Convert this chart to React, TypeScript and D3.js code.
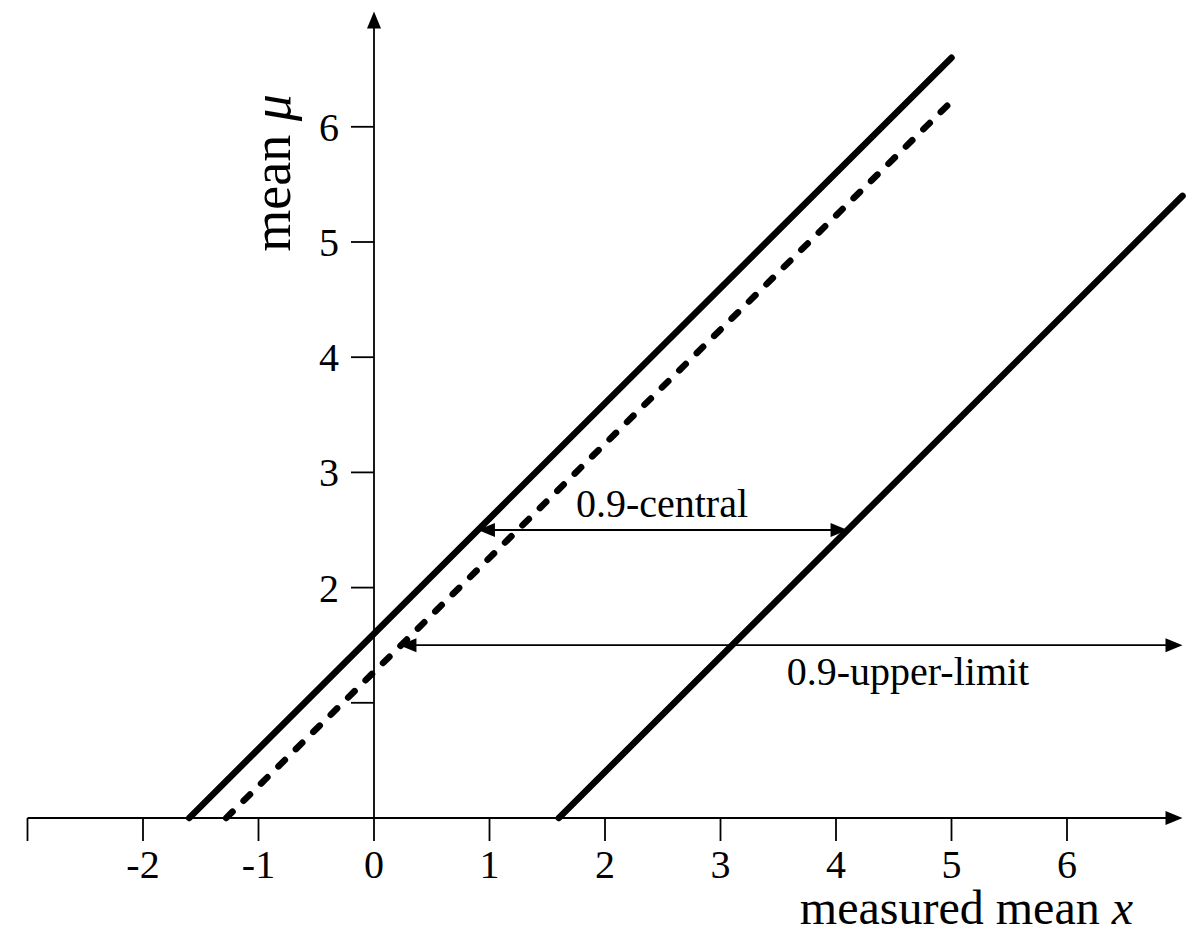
import React, { useEffect, useRef } from 'react';
import * as d3 from 'd3';

// tick values along each axis
const xTicks = [-3, -2, -1, 0, 1, 2, 3, 4, 5, 6];
const xTickLabels = ['', '-2', '-1', '0', '1', '2', '3', '4', '5', '6'];
const yTicks = [1, 2, 3, 4, 5, 6];
const yTickLabels = ['', '2', '3', '4', '5', '6'];

// confidence belt lines, [x, mu] end points
const upperBelt: [number, number][] = [[-1.6, 0], [5, 6.6]];
const limitBelt: [number, number][] = [[-1.28, 0], [5, 6.22]];
const lowerBelt: [number, number][] = [[1.6, 0], [7, 5.4]];

// interval arrows: mu level, x from, x to
const centralArrow = { mu: 2.5, from: 0.9, to: 4.1, label: '0.9-central' };
const upperArrow = { mu: 1.5, from: 0.22, to: 7, label: '0.9-upper-limit' };

const FONT = '"Liberation Serif", "DejaVu Serif", serif';

export default function App() {
  const ref = useRef<SVGSVGElement>(null);

  useEffect(() => {
    const svg = d3.select(ref.current);
    svg.selectAll('*').remove();

    const x = d3.scaleLinear().domain([0, 7]).range([374, 374 + 7 * 115.5]);
    const y = d3.scaleLinear().domain([0, 7]).range([818, 818 - 7 * 115.2]);

    const g = svg.append('g');

    // arrowhead helper
    const head = (tx: number, ty: number, dir: 'left' | 'right' | 'up') => {
      const L = 17, W = 7;
      let pts: [number, number][];
      if (dir === 'right') pts = [[tx, ty], [tx - L, ty - W], [tx - L, ty + W]];
      else if (dir === 'left') pts = [[tx, ty], [tx + L, ty - W], [tx + L, ty + W]];
      else pts = [[tx, ty], [tx - W, ty + L], [tx + W, ty + L]];
      g.append('path')
        .attr('d', 'M' + pts.map(p => p.join(',')).join('L') + 'Z')
        .attr('fill', '#000');
    };

    // x axis
    g.append('line')
      .attr('x1', x(-3)).attr('x2', x(7) - 8)
      .attr('y1', y(0)).attr('y2', y(0))
      .attr('stroke', '#000').attr('stroke-width', 1.8);
    head(x(7), y(0), 'right');

    g.selectAll('.xtick')
      .data(xTicks)
      .enter()
      .append('line')
      .attr('x1', d => x(d)).attr('x2', d => x(d))
      .attr('y1', y(0)).attr('y2', y(0) + 23)
      .attr('stroke', '#000').attr('stroke-width', 1.8);

    g.selectAll('.xlabel')
      .data(xTicks)
      .enter()
      .append('text')
      .attr('x', d => x(d))
      .attr('y', y(0) + 60)
      .attr('text-anchor', 'middle')
      .attr('font-family', FONT)
      .attr('font-size', 40)
      .text((d, i) => xTickLabels[i]);

    // y axis
    g.append('line')
      .attr('x1', x(0)).attr('x2', x(0))
      .attr('y1', y(0)).attr('y2', y(7) + 8)
      .attr('stroke', '#000').attr('stroke-width', 1.8);
    head(x(0), y(7), 'up');

    g.selectAll('.ytick')
      .data(yTicks)
      .enter()
      .append('line')
      .attr('x1', x(0) - 23).attr('x2', x(0))
      .attr('y1', d => y(d)).attr('y2', d => y(d))
      .attr('stroke', '#000').attr('stroke-width', 1.8);

    g.selectAll('.ylabel')
      .data(yTicks)
      .enter()
      .append('text')
      .attr('x', x(0) - 35)
      .attr('y', d => y(d) + 14)
      .attr('text-anchor', 'end')
      .attr('font-family', FONT)
      .attr('font-size', 40)
      .text((d, i) => yTickLabels[i]);

    // belts
    const line = d3.line<[number, number]>().x(d => x(d[0])).y(d => y(d[1]));
    [upperBelt, lowerBelt].forEach(b => {
      g.append('path')
        .attr('d', line(b))
        .attr('fill', 'none')
        .attr('stroke', '#000')
        .attr('stroke-width', 6.5)
        .attr('stroke-linecap', 'round');
    });
    g.append('path')
      .attr('d', line(limitBelt))
      .attr('fill', 'none')
      .attr('stroke', '#000')
      .attr('stroke-width', 6.5)
      .attr('stroke-linecap', 'round')
      .attr('stroke-dasharray', '9 15.5');

    // interval arrows
    [centralArrow, upperArrow].forEach(a => {
      g.append('line')
        .attr('x1', x(a.from) + 8).attr('x2', x(a.to) - 8)
        .attr('y1', y(a.mu)).attr('y2', y(a.mu))
        .attr('stroke', '#000').attr('stroke-width', 1.8);
      head(x(a.from), y(a.mu), 'left');
      head(x(a.to), y(a.mu), 'right');
    });

    g.append('text')
      .attr('x', 662).attr('y', y(centralArrow.mu) - 13)
      .attr('text-anchor', 'middle')
      .attr('font-family', FONT)
      .attr('font-size', 40)
      .text(centralArrow.label);

    g.append('text')
      .attr('x', 908).attr('y', y(upperArrow.mu) + 40)
      .attr('text-anchor', 'middle')
      .attr('font-family', FONT)
      .attr('font-size', 40)
      .text(upperArrow.label);

    // axis titles
    const xt = g.append('text')
      .attr('x', 1133).attr('y', 924)
      .attr('text-anchor', 'end')
      .attr('font-family', FONT)
      .attr('font-size', 48);
    xt.append('tspan').text('measured mean ');
    xt.append('tspan').attr('font-style', 'italic').text('x');

    const yt = g.append('text')
      .attr('transform', 'translate(290,173) rotate(-90)')
      .attr('text-anchor', 'middle')
      .attr('font-family', FONT)
      .attr('font-size', 54);
    yt.append('tspan').text('mean ');
    yt.append('tspan').attr('font-style', 'italic').text('μ');
  }, []);

  return (
    <svg
      ref={ref}
      width={1198}
      height={935}
      style={{ position: 'absolute', left: 0, top: 0, background: '#fff' }}
    />
  );
}
